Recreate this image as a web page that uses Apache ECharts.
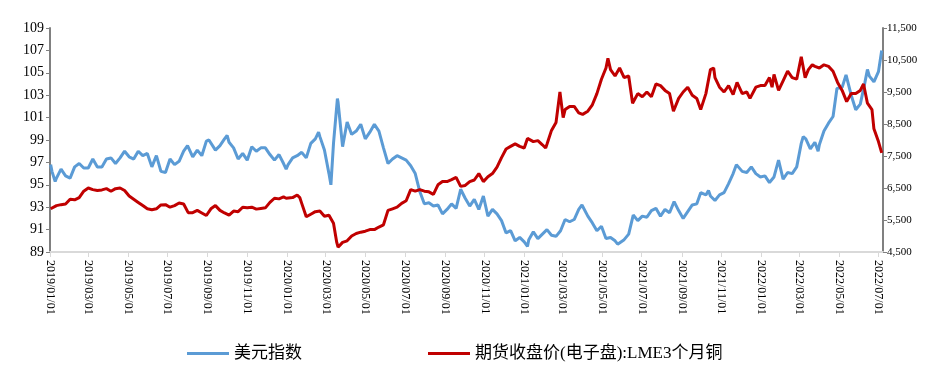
<!DOCTYPE html>
<html><head><meta charset="utf-8">
<script src="https://cdn.jsdelivr.net/npm/echarts@6/dist/echarts.min.js"></script>
<style>html,body{margin:0;padding:0;background:#fff}#c{width:945px;height:377px}</style>
</head><body><div id="c"></div>
<script>
const seriesNames = ['美元指数', '期货收盘价(电子盘):LME3个月铜'];

const dxyDates = [
'2019-01-02','2019-01-04','2019-01-09','2019-01-11','2019-01-18','2019-01-25','2019-02-01','2019-02-08','2019-02-15','2019-02-22',
'2019-03-01','2019-03-08','2019-03-15','2019-03-22','2019-03-29','2019-04-05','2019-04-12','2019-04-19','2019-04-26','2019-05-03',
'2019-05-10','2019-05-17','2019-05-24','2019-05-31','2019-06-07','2019-06-14','2019-06-21','2019-06-28','2019-07-05','2019-07-12',
'2019-07-19','2019-07-26','2019-08-01','2019-08-09','2019-08-16','2019-08-23','2019-08-30','2019-09-03','2019-09-13','2019-09-20',
'2019-09-27','2019-10-01','2019-10-04','2019-10-11','2019-10-18','2019-10-25','2019-11-01','2019-11-08','2019-11-15','2019-11-22',
'2019-11-29','2019-12-06','2019-12-13','2019-12-20','2019-12-27','2019-12-31',
'2020-01-03','2020-01-10','2020-01-17','2020-01-24','2020-01-31','2020-02-07','2020-02-14','2020-02-19','2020-02-21','2020-02-28',
'2020-03-06','2020-03-09','2020-03-13','2020-03-19','2020-03-20','2020-03-27','2020-04-03','2020-04-10','2020-04-17','2020-04-24',
'2020-05-01','2020-05-08','2020-05-15','2020-05-22','2020-05-29','2020-06-05','2020-06-12','2020-06-19','2020-06-26','2020-07-03',
'2020-07-10','2020-07-17','2020-07-24','2020-07-31','2020-08-07','2020-08-14','2020-08-21','2020-08-28','2020-09-04','2020-09-11',
'2020-09-18','2020-09-25','2020-10-02','2020-10-09','2020-10-16','2020-10-23','2020-10-30','2020-11-06','2020-11-13','2020-11-20',
'2020-11-27','2020-12-04','2020-12-11','2020-12-18','2020-12-25',
'2021-01-01','2021-01-06','2021-01-08','2021-01-15','2021-01-22','2021-01-29','2021-02-05','2021-02-12','2021-02-19','2021-02-26',
'2021-03-05','2021-03-12','2021-03-19','2021-03-26','2021-03-31','2021-04-09','2021-04-16','2021-04-23','2021-04-30','2021-05-07',
'2021-05-14','2021-05-21','2021-05-25','2021-06-04','2021-06-11','2021-06-18','2021-06-25','2021-07-02','2021-07-09','2021-07-16',
'2021-07-23','2021-07-30','2021-08-06','2021-08-13','2021-08-20','2021-08-27','2021-09-03','2021-09-10','2021-09-17','2021-09-24',
'2021-09-30','2021-10-08','2021-10-12','2021-10-15','2021-10-22','2021-10-29','2021-11-05','2021-11-12','2021-11-19','2021-11-24',
'2021-12-03','2021-12-10','2021-12-17','2021-12-24','2021-12-31',
'2022-01-07','2022-01-14','2022-01-21','2022-01-28','2022-02-04','2022-02-11','2022-02-18','2022-02-25','2022-03-04','2022-03-07',
'2022-03-11','2022-03-18','2022-03-25','2022-03-30','2022-04-01','2022-04-08','2022-04-15','2022-04-22','2022-04-28','2022-05-06',
'2022-05-12','2022-05-13','2022-05-20','2022-05-27','2022-06-03','2022-06-10','2022-06-14','2022-06-17','2022-06-24','2022-07-01',
'2022-07-06'
];
const dxyValues = [
96.8,96.2,95.3,95.6,96.4,95.8,95.6,96.6,96.9,96.5,
96.5,97.3,96.6,96.6,97.3,97.4,96.9,97.4,98.0,97.5,
97.3,98.0,97.6,97.8,96.6,97.6,96.2,96.1,97.3,96.8,
97.1,98.0,98.5,97.5,98.1,97.6,98.9,99.0,98.1,98.5,
99.1,99.4,98.8,98.3,97.3,97.8,97.2,98.4,98.0,98.3,
98.3,97.7,97.2,97.7,96.9,96.4,
96.8,97.4,97.6,97.9,97.4,98.7,99.1,99.7,99.3,98.1,
96.0,95.0,98.7,102.7,102.4,98.4,100.6,99.5,99.8,100.4,
99.1,99.7,100.4,99.8,98.3,96.9,97.3,97.6,97.4,97.2,
96.7,96.0,94.4,93.3,93.4,93.1,93.2,92.4,92.8,93.3,
92.9,94.6,93.8,93.1,93.7,92.8,94.0,92.2,92.8,92.4,
91.8,90.7,90.9,90.0,90.3,
89.9,89.5,90.1,90.8,90.2,90.6,91.0,90.5,90.4,90.9,
91.9,91.7,91.9,92.8,93.2,92.2,91.6,90.9,91.3,90.2,
90.3,90.0,89.7,90.1,90.6,92.3,91.8,92.2,92.1,92.7,
92.9,92.2,92.8,92.5,93.5,92.7,92.0,92.6,93.2,93.3,
94.3,94.1,94.5,94.0,93.6,94.1,94.3,95.1,96.0,96.8,
96.2,96.1,96.6,96.0,95.7,
95.8,95.2,95.7,97.2,95.5,96.1,96.0,96.6,98.7,99.3,
99.1,98.2,98.8,98.0,98.6,99.8,100.5,101.1,103.6,103.7,
104.8,104.6,103.0,101.7,102.2,104.1,105.3,104.7,104.2,105.1,
107.0
];

const cuDates = [
'2019-01-02','2019-01-04','2019-01-11','2019-01-18','2019-01-25','2019-02-01','2019-02-08','2019-02-15','2019-02-22','2019-03-01',
'2019-03-08','2019-03-15','2019-03-22','2019-03-29','2019-04-05','2019-04-12','2019-04-19','2019-04-26','2019-05-03','2019-05-10',
'2019-05-17','2019-05-24','2019-05-31','2019-06-07','2019-06-14','2019-06-21','2019-06-28','2019-07-05','2019-07-12','2019-07-19',
'2019-07-26','2019-08-02','2019-08-09','2019-08-16','2019-08-23','2019-08-30','2019-09-06','2019-09-13','2019-09-20','2019-09-27',
'2019-10-04','2019-10-11','2019-10-18','2019-10-25','2019-11-01','2019-11-08','2019-11-15','2019-11-22','2019-11-29','2019-12-06',
'2019-12-13','2019-12-20','2019-12-27','2019-12-31',
'2020-01-03','2020-01-10','2020-01-17','2020-01-21','2020-01-24','2020-01-31','2020-02-07','2020-02-14','2020-02-21','2020-02-28',
'2020-03-06','2020-03-13','2020-03-18','2020-03-20','2020-03-27','2020-04-03','2020-04-10','2020-04-17','2020-04-24','2020-05-01',
'2020-05-08','2020-05-15','2020-05-22','2020-05-29','2020-06-05','2020-06-12','2020-06-19','2020-06-26','2020-07-03','2020-07-10',
'2020-07-17','2020-07-24','2020-07-31','2020-08-07','2020-08-14','2020-08-21','2020-08-28','2020-09-04','2020-09-11','2020-09-18',
'2020-09-25','2020-10-02','2020-10-09','2020-10-16','2020-10-23','2020-10-30','2020-11-06','2020-11-13','2020-11-20','2020-11-27',
'2020-12-04','2020-12-11','2020-12-18','2020-12-25',
'2021-01-01','2021-01-06','2021-01-08','2021-01-15','2021-01-22','2021-01-29','2021-02-03','2021-02-05','2021-02-12','2021-02-19',
'2021-02-25','2021-03-02','2021-03-05','2021-03-12','2021-03-19','2021-03-26','2021-04-01','2021-04-09','2021-04-16','2021-04-23',
'2021-04-30','2021-05-07','2021-05-10','2021-05-14','2021-05-21','2021-05-28','2021-06-04','2021-06-11','2021-06-17','2021-06-25',
'2021-07-02','2021-07-09','2021-07-16','2021-07-23','2021-07-30','2021-08-06','2021-08-13','2021-08-19','2021-08-27','2021-09-03',
'2021-09-10','2021-09-17','2021-09-24','2021-09-30','2021-10-08','2021-10-15','2021-10-20','2021-10-22','2021-10-29','2021-11-05',
'2021-11-12','2021-11-19','2021-11-25','2021-12-03','2021-12-10','2021-12-15','2021-12-24','2021-12-31',
'2022-01-07','2022-01-14','2022-01-18','2022-01-21','2022-01-28','2022-02-04','2022-02-11','2022-02-18','2022-02-25','2022-03-04',
'2022-03-10','2022-03-15','2022-03-21','2022-03-25','2022-04-01','2022-04-08','2022-04-15','2022-04-22','2022-04-29','2022-05-06',
'2022-05-13','2022-05-20','2022-05-27','2022-06-03','2022-06-08','2022-06-14','2022-06-21','2022-06-24','2022-07-01','2022-07-06'
];
const cuValues = [
5850,5900,5950,5980,6000,6150,6130,6200,6400,6500,
6450,6420,6440,6480,6400,6480,6500,6420,6250,6150,
6050,5950,5850,5820,5850,5970,5980,5900,5950,6030,
6000,5730,5730,5800,5720,5640,5850,5950,5800,5720,
5650,5780,5760,5900,5880,5900,5840,5860,5880,6050,
6180,6160,6220,6180,
6150,6200,6280,6200,6020,5600,5680,5760,5780,5620,
5650,5400,4800,4650,4800,4850,5000,5080,5120,5150,
5200,5200,5280,5350,5800,5850,5900,6020,6100,6450,
6400,6450,6400,6380,6300,6600,6700,6700,6760,6830,
6550,6580,6700,6750,6950,6700,6850,6950,7150,7450,
7720,7800,7880,7800,
7750,8050,8000,7950,7980,7850,7750,7870,8300,8550,
9500,8700,8950,9050,9050,8850,8800,8900,9100,9450,
9900,10250,10550,10200,10000,10250,9950,10000,9150,9450,
9350,9500,9350,9750,9700,9550,9450,8900,9300,9500,
9650,9400,9300,8950,9450,10200,10250,9950,9650,9500,
9700,9420,9800,9450,9500,9300,9650,9700,
9700,9950,9650,10050,9550,9850,10150,9950,9900,10600,
9950,10200,10350,10300,10250,10350,10300,10150,9800,9550,
9200,9450,9450,9550,9750,9150,8950,8350,7950,7600
];

const xTickDates = ['2019-01-01','2019-03-01','2019-05-01','2019-07-01','2019-09-01','2019-11-01',
'2020-01-01','2020-03-01','2020-05-01','2020-07-01','2020-09-01','2020-11-01',
'2021-01-01','2021-03-01','2021-05-01','2021-07-01','2021-09-01','2021-11-01',
'2022-01-01','2022-03-01','2022-05-01','2022-07-01'];
const leftTicks = [89,91,93,95,97,99,101,103,105,107,109];
const rightTicks = [4500,5500,6500,7500,8500,9500,10500,11500];

function ts(s){const p=s.split('-');return new Date(+p[0],+p[1]-1,+p[2]).getTime();}
function fmtDate(v){const d=new Date(v);const m=d.getMonth()+1,dd=d.getDate();return d.getFullYear()+'/'+(m<10?'0':'')+m+'/'+(dd<10?'0':'')+dd;}
function commas(v){return String(v).replace(/\B(?=(\d{3})+(?!\d))/g, ',');}

const xTicks = xTickDates.map(ts);
const dxyData = dxyDates.map((d,i)=>[ts(d), dxyValues[i]]);
const cuData = cuDates.map((d,i)=>[ts(d), cuValues[i]]);

const serif = "'Liberation Serif','Times New Roman',serif";
const chart = echarts.init(document.getElementById('c'));
chart.setOption({
  animation:false,
  backgroundColor:'#fff',
  grid:{left:50,right:62,top:28,bottom:125,containLabel:false},
  legend:{
    data:seriesNames, left:182, top:340, icon:'rect', itemWidth:42, itemHeight:3, itemGap:126,
    textStyle:{fontSize:17,color:'#000',fontFamily:"'Liberation Serif','Noto Sans CJK SC',serif"}
  },
  xAxis:{
    type:'value', min:ts('2019-01-01'), max:ts('2022-07-08'),
    axisLine:{show:true,lineStyle:{color:'#d9d9d9',width:2}},
    axisTick:{show:true,customValues:xTicks,length:5,lineStyle:{color:'#d9d9d9',width:1}},
    axisLabel:{show:true,customValues:xTicks,rotate:-90,margin:8,fontSize:12,color:'#000',fontFamily:serif,formatter:fmtDate},
    splitLine:{show:false}
  },
  yAxis:[{
    type:'value', min:89, max:109, position:'left',
    axisLine:{show:true,lineStyle:{color:'#808080',width:2}},
    axisTick:{show:true,customValues:leftTicks,length:4,lineStyle:{color:'#808080',width:1}},
    axisLabel:{customValues:leftTicks,fontSize:14,color:'#000',fontFamily:serif,margin:6},
    splitLine:{show:false}
  },{
    type:'value', min:4500, max:11500, position:'right',
    axisLine:{show:true,lineStyle:{color:'#808080',width:2}},
    axisTick:{show:true,customValues:rightTicks,length:4,lineStyle:{color:'#808080',width:1}},
    axisLabel:{customValues:rightTicks,fontSize:11,color:'#000',fontFamily:serif,margin:4,formatter:commas},
    splitLine:{show:false}
  }],
  series:[{
    name:seriesNames[0], type:'line', yAxisIndex:0, data:dxyData, showSymbol:false, symbol:'none',
    lineStyle:{color:'#5B9BD5',width:3}, itemStyle:{color:'#5B9BD5'}
  },{
    name:seriesNames[1], type:'line', yAxisIndex:1, data:cuData, showSymbol:false, symbol:'none',
    lineStyle:{color:'#C00000',width:3}, itemStyle:{color:'#C00000'}
  }]
});
</script></body></html>
